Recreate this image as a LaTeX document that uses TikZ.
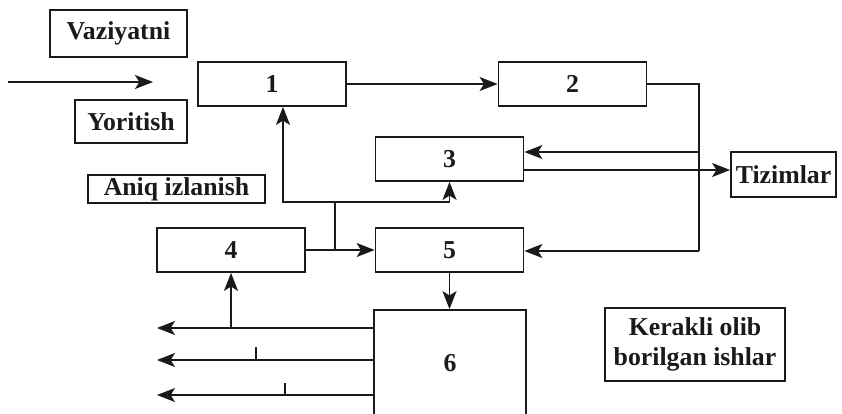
\documentclass[tikz,border=0pt]{standalone}
\usepackage{fontspec}
\setmainfont{Liberation Serif}
\usetikzlibrary{arrows.meta,positioning,calc}
\definecolor{ink}{HTML}{1A1A1A}

\begin{document}
\begin{tikzpicture}[
  x=0.03cm, y=-0.03cm,
  blok/.style={draw=ink, line width=1.5pt, minimum width=4.44cm, minimum height=1.32cm, inner sep=0pt,
               font=\fontsize{22}{24}\selectfont\bfseries, text=ink},
  lbl/.style={draw=ink, line width=1.5pt, inner sep=0pt, align=center,
              font=\fontsize{22}{25}\selectfont\bfseries, text=ink},
  arrow/.style={-{Stealth[length=5.4mm, width=4.2mm, inset=1.3mm]}, line width=1.4pt, draw=ink},
  line/.style={line width=1.4pt, draw=ink}
]
\useasboundingbox (0,0) rectangle (842,413);

% ---------- Bloklar ----------
\node[blok] (blok1) at (272,84) {1};
\node[blok] (blok2) at (572.5,84) {2};
\node[blok] (blok3) at (449.5,159) {3};
\node[blok] (blok4) at (231,250) {4};
\node[blok] (blok5) at (449.5,250) {5};
\node[blok, minimum width=4.56cm, minimum height=3.18cm] (blok6) at (450,363) {6};

% ---------- Yozuvlar ----------
\node[lbl, minimum width=4.11cm, minimum height=1.41cm] (vaz) at (118.5,33.5) {Vaziyatni};
\node[lbl, minimum width=3.36cm, minimum height=1.29cm] (yor) at (131,121.5) {Yoritish};
\node[lbl, minimum width=5.31cm, minimum height=0.84cm] (aniq) at (176.5,189) {Aniq izlanish};
\node[lbl, minimum width=3.15cm, minimum height=1.35cm] (tiz) at (783.5,174.5) {Tizimlar};
\node[lbl, minimum width=5.4cm, minimum height=2.19cm] (ker) at (695,344.5) {Kerakli olib\\borilgan ishlar};

% ---------- Kirish ----------
\coordinate (kir0) at (8,82);
\coordinate (kir1) at (153,82);
\draw[arrow] (kir0) -- (kir1);
\draw[arrow] (blok1) -- (blok2);

% ---------- 2 dan 3 va 5 ga ----------
\coordinate (rail) at (699,251);
\coordinate (kir3) at ([yshift=0.21cm]blok3.east);
\coordinate (chiq3) at ([yshift=-0.33cm]blok3.east);
\draw[line] (blok2.east) -| (rail);
\draw[arrow] (rail) -- (rail -| blok5.east);
\draw[arrow] (kir3 -| rail) -- (kir3);
\draw[arrow] (chiq3) -- (chiq3 -| tiz.west);

% ---------- 4 dan 5, 1 va 3 ga ----------
\coordinate (fork) at (335,202);
\draw[arrow] (blok4) -- (blok5);
\draw[line] (fork |- blok4.east) -- (fork);
\draw[arrow] (fork) -| ([xshift=0.33cm]blok1.south);
\draw[arrow] (fork) -| (blok3.south);
\draw[arrow] (blok5.south) -- (blok5.south |- blok6.north);

% ---------- 6 dan chiqishlar ----------
\foreach \y/\n in {328/a,360/b,395/c}
  \coordinate (chiq\n) at (157,\y);
\foreach \n in {a,b,c}
  \draw[arrow] (chiq\n -| blok6.west) -- (chiq\n);
\draw[arrow] (blok4.south |- chiqa) -- (blok4.south);
\coordinate (belgi1) at (256,347);
\coordinate (belgi2) at (285,383);
\draw[line] (belgi1) -- (belgi1 |- chiqb);
\draw[line] (belgi2) -- (belgi2 |- chiqc);

\end{tikzpicture}
\end{document}
